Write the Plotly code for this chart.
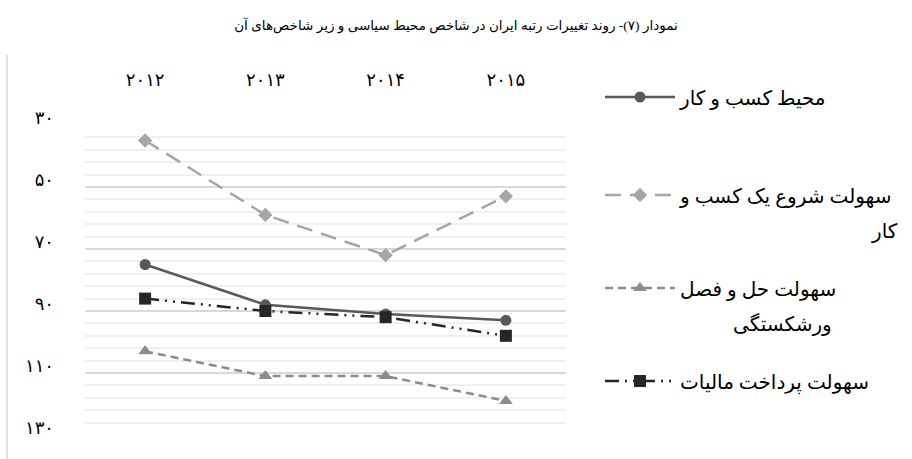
import plotly.graph_objects as go

years = ["۲۰۱۲", "۲۰۱۳", "۲۰۱۴", "۲۰۱۵"]
business_env = [75, 88, 91, 93]
start_business = [35, 59, 72, 53]
insolvency = [103, 111, 111, 119]
paying_taxes = [86, 90, 92, 98]

names = ["محیط کسب و کار", "سهولت شروع یک کسب و", "سهولت حل و فصل", "سهولت پرداخت مالیات"]
name_second_lines = ["", "کار", "ورشکستگی", ""]
ytick_vals = [30, 50, 70, 90, 110, 130]
ytick_text = ["۳۰", "۵۰", "۷۰", "۹۰", "۱۱۰", "۱۳۰"]
title_text = "نمودار (۷)- روند تغییرات رتبه ایران در شاخص محیط سیاسی و زیر شاخص‌های آن"

FONT = "Liberation Serif, DejaVu Sans, serif"

PL, PR, PT, PB = 85, 346, 125, 24
W, H = 912, 459
pw = W - PL - PR
ph = H - PT - PB

def px2paper_x(px):
    return (px - PL) / pw

def px2paper_y(py):
    return (H - PB - py) / ph

fig = go.Figure()
styles = [
    dict(color="#595959", dash="solid", symbol="circle", size=11),
    dict(color="#A6A6A6", dash="16px,9px", symbol="diamond", size=11),
    dict(color="#8C8C8C", dash="8px,5px", symbol="triangle-up", size=12),
    dict(color="#262626", dash="14px,6px,2px,6px,2px,6px", symbol="square", size=12),
]
series = [business_env, start_business, insolvency, paying_taxes]
legend_ids = ["legend", "legend2", "legend3", "legend4"]
legend_centers = [97, 195, 288, 381]
for i, (nm, vals, st) in enumerate(zip(names, series, styles)):
    fig.add_trace(go.Scatter(
        x=years, y=vals, name=nm, mode="lines+markers",
        legend=legend_ids[i],
        line=dict(color=st["color"], width=2.5, dash=st["dash"]),
        marker=dict(symbol=st["symbol"], size=st["size"], color=st["color"]),
    ))

legend_layouts = {}
for lid, cy in zip(legend_ids, legend_centers):
    legend_layouts[lid] = dict(
        x=px2paper_x(600), y=px2paper_y(cy), xanchor="left", yanchor="middle",
        itemwidth=70, bgcolor="rgba(0,0,0,0)",
        font=dict(family=FONT, size=20, color="#000000"))

# second lines of wrapped legend labels
second_pos = {1: (900, 231), 2: (834, 324)}
for i, txt in enumerate(name_second_lines):
    if txt:
        xx, yy = second_pos[i]
        fig.add_annotation(text=txt, xref="paper", yref="paper",
                           x=px2paper_x(xx), y=px2paper_y(yy),
                           xanchor="right", yanchor="middle", showarrow=False,
                           font=dict(family=FONT, size=20, color="#000000"))

fig.add_shape(type="line", xref="paper", yref="paper",
              x0=px2paper_x(7), x1=px2paper_x(7),
              y0=px2paper_y(459), y1=px2paper_y(55),
              line=dict(color="#D9D9D9", width=1.5))

fig.update_layout(
    width=W, height=H,
    margin=dict(l=PL, r=PR, t=PT, b=PB),
    paper_bgcolor="white", plot_bgcolor="white",
    font=dict(family=FONT, size=16, color="#000000"),
    title=dict(text=title_text, x=0.5, xref="container", xanchor="center",
               y=1 - 25 / H, yref="container", yanchor="middle",
               font=dict(family=FONT, size=13.5, color="#000000")),
    showlegend=True,
    xaxis=dict(type="category", side="top", range=[-0.5, 3.5],
               showgrid=False, showline=False, zeroline=False,
               ticks="", ticklabelstandoff=34,
               tickfont=dict(family=FONT, size=18, color="#000000")),
    yaxis=dict(range=[130, 30], tickvals=ytick_vals, ticktext=ytick_text,
               showgrid=True, gridcolor="#D9D9D9", gridwidth=1.5,
               showline=False, zeroline=False, ticks="", ticklabelstandoff=30,
               ticklabelshift=7,
               tickfont=dict(family=FONT, size=18, color="#000000"),
               minor=dict(dtick=4, tick0=30, showgrid=True, gridcolor="#F0F0F0", gridwidth=1.5)),
    **legend_layouts,
)

fig.write_html("out.html")
